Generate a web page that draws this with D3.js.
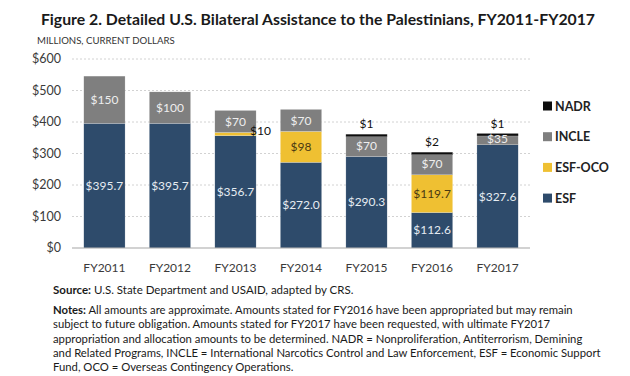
<!DOCTYPE html>
<html>
<head>
<meta charset="utf-8">
<script src="https://cdn.jsdelivr.net/npm/d3@7"></script>
<style>
  body { margin: 0; background: #fff; }
  svg { font-family: Lato, "Open Sans", sans-serif; }
</style>
</head>
<body>
<svg width="630" height="376"></svg>
<script>
// values in millions of current dollars
var years = ["FY2011", "FY2012", "FY2013", "FY2014", "FY2015", "FY2016", "FY2017"];
var esf    = [395.7, 395.7, 356.7, 272.0, 290.3, 112.6, 327.6];
var esfOco = [0, 0, 10, 98, 0, 119.7, 0];
var incle  = [150, 100, 70, 70, 70, 70, 35];
var nadr   = [0, 0, 0, 0, 1, 2, 1];
var yTicks = [0, 100, 200, 300, 400, 500, 600];

var keys = ["ESF", "ESF-OCO", "INCLE", "NADR"];
var colors = {"ESF": "#2e4b6b", "ESF-OCO": "#efc032", "INCLE": "#7f7f7f", "NADR": "#0d0d0d"};
var textColors = {"ESF": "#e6ecf2", "ESF-OCO": "#4a3a12", "INCLE": "#eeeeee", "NADR": "#111"};

var rows = years.map(function(y, i) {
  return {year: y, "ESF": esf[i], "ESF-OCO": esfOco[i], "INCLE": incle[i], "NADR": nadr[i]};
});

var svg = d3.select("svg");

var x = d3.scaleBand().domain(years).range([72, 530]).paddingInner(0.37).paddingOuter(0.18);
var y = d3.scaleLinear().domain([0, 600]).range([248, 59]);

// title and unit
svg.append("text")
    .attr("x", 318).attr("y", 25)
    .attr("text-anchor", "middle")
    .attr("font-size", 15.8).attr("font-weight", "bold").attr("fill", "#1a1a1a")
    .text("Figure 2. Detailed U.S. Bilateral Assistance to the Palestinians, FY2011-FY2017");

svg.append("text")
    .attr("x", 37).attr("y", 44)
    .attr("font-size", 9.6).attr("fill", "#333")
    .text("MILLIONS, CURRENT DOLLARS");

// gridlines + y labels
var grid = svg.append("g");
grid.selectAll("line")
    .data(yTicks.filter(function(d) { return d > 0; }))
    .enter().append("line")
    .attr("x1", 72).attr("x2", 530)
    .attr("y1", function(d) { return y(d); })
    .attr("y2", function(d) { return y(d); })
    .attr("stroke", "#c6c6c6").attr("stroke-dasharray", "2,2").attr("stroke-width", 0.8);

grid.selectAll("text")
    .data(yTicks)
    .enter().append("text")
    .attr("x", 61).attr("y", function(d) { return y(d); })
    .attr("dy", "0.35em")
    .attr("text-anchor", "end")
    .attr("font-size", 12.5).attr("fill", "#3a3a3a")
    .text(function(d) { return "$" + d; });

var stack = d3.stack().keys(keys);
var series = stack(rows);

var layer = svg.append("g").selectAll("g")
    .data(series)
    .enter().append("g")
    .attr("fill", function(d) { return colors[d.key]; });

layer.selectAll("rect")
    .data(function(d) { return d; })
    .enter().append("rect")
    .attr("x", function(d) { return x(d.data.year); })
    .attr("width", x.bandwidth())
    .attr("y", function(d) { return y(d[1]); })
    .attr("height", function(d) {
      var h = y(d[0]) - y(d[1]);
      // the tiny NADR amounts are drawn as a visible cap
      return h > 0 && h < 2.5 ? 2.5 : h;
    })
    .attr("stroke", "#fff").attr("stroke-width", 0.4).attr("stroke-opacity", 0.5);

// axis line
svg.append("line")
    .attr("x1", 72).attr("x2", 530)
    .attr("y1", y(0)).attr("y2", y(0))
    .attr("stroke", "#a6a6a6").attr("stroke-width", 1.2);

// x labels
svg.append("g").selectAll("text")
    .data(years)
    .enter().append("text")
    .attr("x", function(d) { return x(d) + x.bandwidth() / 2; })
    .attr("y", 268).attr("dy", "0.35em")
    .attr("text-anchor", "middle")
    .attr("font-size", 12).attr("fill", "#3a3a3a")
    .text(function(d) { return d; });

// value labels
function fmt(key, v) {
  if (key === "ESF") return "$" + d3.format(".1f")(v);
  return "$" + (v % 1 ? d3.format(".1f")(v) : v);
}

series.forEach(function(s) {
  s.forEach(function(d) {
    var v = d.data[s.key];
    if (!v) return;
    var cx = x(d.data.year) + x.bandwidth() / 2;
    var top = y(d[1]), bot = y(d[0]);
    var t = svg.append("text").attr("font-size", 12).text(fmt(s.key, v));
    if (s.key === "NADR") {
      t.attr("x", cx).attr("y", top - 10).attr("dy", "0.35em")
        .attr("text-anchor", "middle").attr("fill", "#111");
    } else if (bot - top < 6) {
      t.attr("x", x(d.data.year) + x.bandwidth() - 6).attr("y", (top + bot) / 2).attr("dy", "0.1em")
        .attr("fill", "#111");
    } else {
      t.attr("x", cx).attr("y", (top + bot) / 2).attr("dy", "0.35em")
        .attr("text-anchor", "middle").attr("fill", textColors[s.key]);
    }
  });
});

// legend
var legend = svg.append("g").selectAll("g")
    .data(keys.slice().reverse())
    .enter().append("g")
    .attr("transform", function(d, i) { return "translate(543," + (106 + i * 30.7) + ")"; });

legend.append("rect")
    .attr("x", 0).attr("y", -4.5).attr("width", 9).attr("height", 9)
    .attr("fill", function(d) { return colors[d]; });

legend.append("text")
    .attr("x", 12).attr("dy", "0.36em")
    .attr("font-size", 12.5).attr("font-weight", "bold").attr("fill", "#222")
    .text(function(d) { return d; });

// source and notes
var notes = [
  "All amounts are approximate. Amounts stated for FY2016 have been appropriated but may remain",
  "subject to future obligation. Amounts stated for FY2017 have been requested, with ultimate FY2017",
  "appropriation and allocation amounts to be determined. NADR = Nonproliferation, Antiterrorism, Demining",
  "and Related Programs, INCLE = International Narcotics Control and Law Enforcement, ESF = Economic Support",
  "Fund, OCO = Overseas Contingency Operations."
];

var src = svg.append("text").attr("x", 53).attr("y", 294).attr("font-size", 11.5).attr("fill", "#1a1a1a");
src.append("tspan").attr("font-weight", "bold").text("Source:");
src.append("tspan").text(" U.S. State Department and USAID, adapted by CRS.");

var nt = svg.append("text").attr("x", 53).attr("y", 314).attr("font-size", 11.3).attr("fill", "#1a1a1a");
notes.forEach(function(line, i) {
  var ts = nt.append("tspan").attr("x", 53).attr("dy", i ? 14.3 : 0);
  if (i === 0) {
    ts.append("tspan").attr("font-weight", "bold").text("Notes:");
    ts.append("tspan").text(" " + line);
  } else {
    ts.text(line);
  }
});
</script>
</body>
</html>
